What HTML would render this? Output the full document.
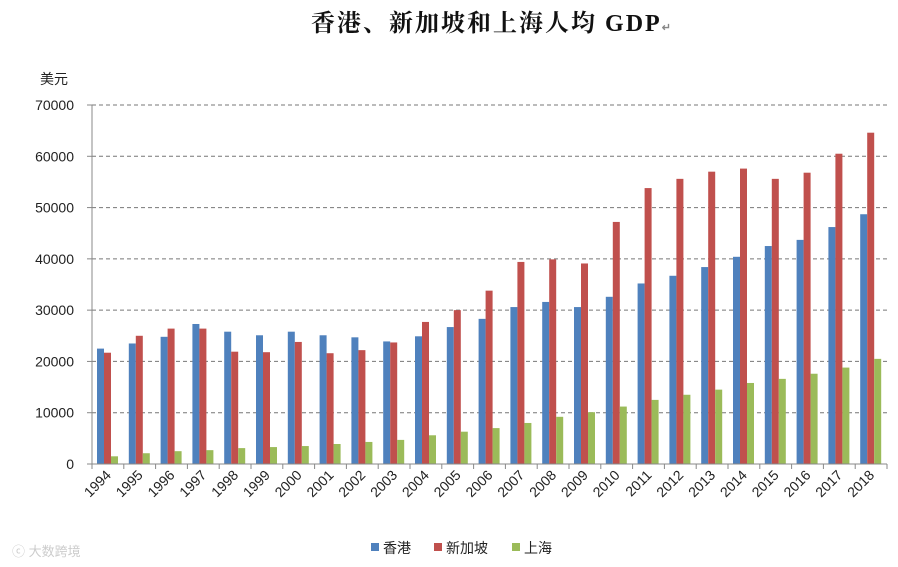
<!DOCTYPE html>
<html><head><meta charset="utf-8"><style>
body{margin:0;background:#fff;}
svg{display:block;font-family:"Liberation Sans","Noto Sans CJK SC",sans-serif;}
</style></head><body>
<svg id="c" width="898" height="567">
<text x="492" y="31" text-anchor="middle" font-family="'Liberation Serif','Noto Serif CJK SC',serif" font-size="24" font-weight="bold" letter-spacing="2" fill="#111">香港、新加坡和上海人均 GDP<tspan font-size="11" fill="#888">↵</tspan></text>
<text x="40" y="84" font-size="14" fill="#222">美元</text>
<g id="grid"></g><g id="bars"></g><g id="axes"></g>
<g font-size="14" fill="#222">
<rect x="371" y="543" width="8" height="8" fill="#4F81BD"/><text x="383" y="553">香港</text>
<rect x="434" y="543" width="8" height="8" fill="#C0504D"/><text x="446" y="553">新加坡</text>
<rect x="512" y="543" width="8" height="8" fill="#9BBB59"/><text x="524" y="553">上海</text>
</g>
<text x="12" y="556" font-size="13" fill="#ccc">ⓒ 大数跨境</text>
</svg>
<script>
const years=["1994","1995","1996","1997","1998","1999","2000","2001","2002","2003","2004","2005","2006","2007","2008","2009","2010","2011","2012","2013","2014","2015","2016","2017","2018"];
const hongkong=[22500,23500,24800,27300,25800,25100,25800,25100,24700,23900,24900,26700,28300,30600,31600,30600,32600,35200,36700,38400,40400,42500,43700,46200,48700];
const singapore=[21700,25000,26400,26400,21900,21800,23800,21600,22200,23700,27700,30000,33800,39400,39900,39100,47200,53800,55600,57000,57600,55600,56800,60500,64600];
const shanghai=[1500,2100,2500,2700,3100,3300,3500,3900,4300,4700,5600,6300,7000,8000,9200,10100,11200,12500,13500,14500,15800,16600,17600,18800,20500];
const yTicks=[0,10000,20000,30000,40000,50000,60000,70000];
const NS="http://www.w3.org/2000/svg";
const x0=92,x1=887,y0=464,yTop=105,yMax=70000;
const cw=(x1-x0)/years.length;
const ys=v=>y0-(v/yMax)*(y0-yTop);
const xs=i=>x0+i*cw;
function mk(t,a,p){const e=document.createElementNS(NS,t);for(const k in a)e.setAttribute(k,a[k]);p.appendChild(e);return e;}
const grid=document.getElementById('grid'),bars=document.getElementById('bars'),axes=document.getElementById('axes');
yTicks.forEach(v=>{
  if(v>0){const l=mk('line',{x1:x0,x2:x1,y1:ys(v),y2:ys(v),stroke:'#777','stroke-dasharray':'4,3','stroke-width':1},grid);
  
  }
  const t=mk('text',{x:x0-18,y:ys(v)+5,'text-anchor':'end','font-size':14,fill:'#222'},axes);
  t.textContent=v;
  
  
});
const series=[[hongkong,'#4F81BD','hk'],[singapore,'#C0504D','sg'],[shanghai,'#9BBB59','sh']];
const bw=7,off=5;
years.forEach((y,i)=>{
  series.forEach((s,j)=>{
    const v=s[0][i];
    const r=mk('rect',{x:xs(i)+off+j*bw,y:ys(v),width:bw,height:y0-ys(v),fill:s[1]},bars);
    
    
  });
  const tk=mk('line',{x1:xs(i),x2:xs(i),y1:y0,y2:y0+5,stroke:'#888'},axes);
  
  
  const cx=xs(i)+cw/2+4,cy=y0+12;
  const t=mk('text',{x:cx,y:cy,'text-anchor':'end','font-size':14,fill:'#222',transform:`rotate(-45 ${cx} ${cy})`},axes);
  t.textContent=y;
  
  
});
const tk=mk('line',{x1:x1,x2:x1,y1:y0,y2:y0+5,stroke:'#888'},axes);


const ya=mk('line',{x1:x0,x2:x0,y1:yTop,y2:y0,stroke:'#888'},axes);


const xa=mk('line',{x1:x0,x2:x1,y1:y0,y2:y0,stroke:'#888'},axes);


yTicks.forEach(v=>{const m=mk('line',{x1:x0-5,x2:x0,y1:ys(v),y2:ys(v),stroke:'#888'},axes);

});
</script>
</body></html>
